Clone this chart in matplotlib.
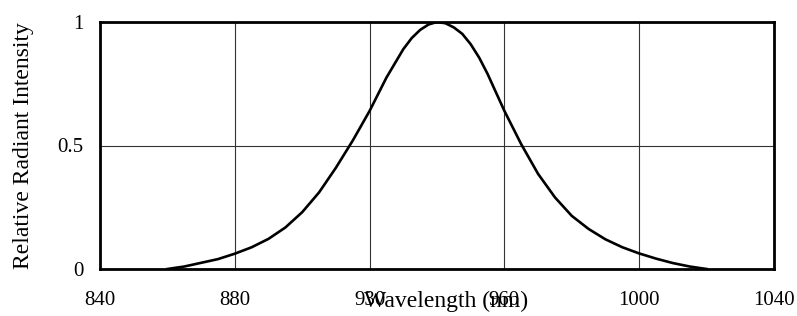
import matplotlib
matplotlib.use("Agg")
from matplotlib import pyplot as plt

# emission spectrum (5 nm steps, 2.5 nm round the peak)
wavelength = [860, 865, 870, 875, 880, 885, 890, 895, 900, 905, 910, 915, 920,
              925, 930, 932.5, 935, 937.5, 940, 942.5, 945, 947.5, 950, 952.5,
              955, 960, 965, 970, 975, 980, 985, 990, 995, 1000, 1005, 1010,
              1015, 1020]
intensity = [0.0, 0.01, 0.025, 0.04, 0.062, 0.088, 0.122, 0.168, 0.23, 0.31,
             0.41, 0.52, 0.64, 0.775, 0.89, 0.935, 0.968, 0.99, 1.0, 0.995,
             0.978, 0.952, 0.91, 0.856, 0.79, 0.64, 0.505, 0.385, 0.29, 0.215,
             0.162, 0.12, 0.088, 0.063, 0.042, 0.024, 0.01, 0.0]

x_ticks = [840, 880, 920, 960, 1000, 1040]
x_ticklabels = ["840", "880", "930", "960", "1000", "1040"]  # as printed
y_ticks = [0, 0.5, 1]
y_ticklabels = ["0", "0.5", "1"]

plt.rcParams['font.family'] = ['Liberation Serif', 'DejaVu Serif']

fig = plt.figure(figsize=(7.97, 3.16), dpi=100)
ax = fig.add_axes([100 / 797, 1 - 269 / 316, 674 / 797, 247 / 316])

ax.plot(wavelength, intensity, color='black', lw=1.9, zorder=3,
        solid_joinstyle='round')

ax.set_xlim(840, 1040)
ax.set_ylim(0, 1)
ax.set_xticks(x_ticks)
ax.set_xticklabels(x_ticklabels)
ax.set_yticks(y_ticks)
ax.set_yticklabels(y_ticklabels)
ax.tick_params(axis='x', length=0, pad=16, labelsize=15)
ax.tick_params(axis='y', length=0, pad=12, labelsize=15)

ax.grid(True, color='#333333', lw=0.8)
for s in ax.spines.values():
    s.set_linewidth(2)
    s.set_color('black')
    s.set_zorder(4)

ax.set_xlabel("Wavelength (nm)", fontsize=17)
ax.xaxis.set_label_coords(0.513, -0.087)
ax.set_ylabel("Relative Radiant Intensity", fontsize=17)
ax.yaxis.set_label_coords(-0.098, 0.5)

fig.savefig("out.png", dpi=100)
